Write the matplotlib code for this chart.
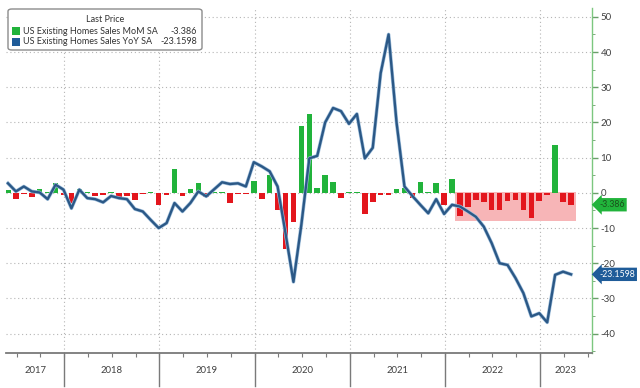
import numpy as np
import matplotlib
matplotlib.use("Agg")
import matplotlib.pyplot as plt
from matplotlib.patches import Rectangle, FancyBboxPatch
from matplotlib.transforms import blended_transform_factory
import matplotlib.patheffects as pe

plt.rcParams['font.family'] = ['Lato', 'DejaVu Sans']

# ---- data (monthly, May 2017 .. Apr 2023) ----
start_year, start_month = 2017, 5
mom = [0.7, -1.8, -0.4, -1.2, 1.0, 0.3, 2.7, -0.6,                 # 2017 May-Dec
       -3.0, 1.0, 0.3, -1.0, -0.5, 0.2, -1.2, -1.0, -2.0, -0.4, 0.2, -3.4,   # 2018
       -0.5, 6.8, -1.0, 1.0, 2.9, -1.2, 0.2, 0.3, -2.9, -0.4, -0.4, 3.5,     # 2019
       -1.8, 5.1, -4.8, -16.0, -8.2, 19.0, 22.3, 1.3, 5.1, 3.2, -1.5, 0.3,   # 2020
       0.3, -6.1, -2.5, -0.7, -0.5, 1.0, 1.3, -1.5, 3.1, 0.2, 2.8, -3.6,     # 2021
       3.8, -6.6, -3.9, -2.0, -2.7, -5.0, -5.0, -2.2, -2.0, -5.0, -7.2, -2.2,  # 2022
       -0.5, 13.6, -2.5, -3.386]                                            # 2023
yoy = [2.7, 0.4, 1.8, 0.4, 0.1, -1.8, 2.3, 0.9,
       -4.4, 0.9, -1.5, -1.8, -2.7, -0.9, -1.5, -1.8, -4.6, -5.3, -7.7, -10.0,
       -8.6, -2.9, -5.3, -2.9, 0.4, -1.0, 1.0, 3.0, 2.5, 2.7, 1.8, 8.7,
       7.5, 6.1, 1.8, -11.5, -25.3, -9.0, 9.8, 10.5, 20.0, 24.1, 23.2, 19.6,
       22.4, 9.8, 12.8, 34.0, 45.0, 20.0, 1.8, -0.9, -3.4, -5.8, -1.8, -6.0,
       -3.4, -3.9, -5.3, -6.8, -9.6, -14.3, -20.0, -20.5, -24.2, -28.5, -35.1, -34.2,
       -36.8, -23.3, -22.4, -23.1598]
years = [2017, 2018, 2019, 2020, 2021, 2022, 2023]
yticks = [-40, -30, -20, -10, 0, 10, 20, 30, 40, 50]
legend_labels = ["US Existing Homes Sales MoM SA", "US Existing Homes Sales YoY SA"]
legend_title = "Last Price"
highlight_start = 57  # Feb 2022 index (start of shaded run)

GREEN = '#21b33b'
RED = '#e3161d'
BLUE = '#2b5886'
PINK = '#f7b5b7'

n = len(mom)
# x in months since Jan 2017, plotted near month end (Bloomberg style)
t = np.array([(start_year - 2017) * 12 + (start_month - 1) + i for i in range(n)]) + 0.9
mom = np.array(mom)
yoy = np.array(yoy)

W, H = 640, 388
fig = plt.figure(figsize=(W / 100, H / 100), dpi=100)
ax_l, ax_r, ax_t, ax_b = 6, 592, 8, 353
ax = fig.add_axes([ax_l / W, 1 - ax_b / H, (ax_r - ax_l) / W, (ax_b - ax_t) / H])

xmin, xmax = 4.65, 78.55
ax.set_xlim(xmin, xmax)
ax.set_ylim(-45.5, 52.5)

# grid
for yv in yticks:
    ax.axhline(yv, color='#b5b5b5', lw=0.8, ls=(0, (1, 2.5)), zorder=1)
year_edges = [(y - 2017) * 12 for y in years[1:]]
for xv in year_edges:
    ax.axvline(xv, color='#b5b5b5', lw=0.8, ls=(0, (1, 2.5)), zorder=1)

# highlight box
hl_bottom = mom[highlight_start:].min() - 0.8
ax.add_patch(Rectangle((t[highlight_start] - 0.6, hl_bottom),
                       t[-1] + 0.6 - (t[highlight_start] - 0.6), 0.3 - hl_bottom,
                       facecolor=PINK, edgecolor='none', zorder=2))

colors = [GREEN if v >= 0 else RED for v in mom]
ax.bar(t, mom, width=0.7, color=colors, zorder=3)

ax.plot(t, yoy, color=BLUE, lw=1.7, zorder=4, solid_joinstyle='round',
        path_effects=[pe.Stroke(linewidth=2.6, foreground='#9fbfdc'), pe.Normal()])

# spines
for s in ['top', 'left']:
    ax.spines[s].set_visible(False)
ax.spines['bottom'].set_color('#7a7a7a')
ax.spines['bottom'].set_linewidth(1.3)
ax.spines['right'].set_color('#7cc77f')
ax.spines['right'].set_linewidth(1.0)

ax.yaxis.tick_right()
ax.set_yticks(yticks)
ax.set_yticklabels([str(v) for v in yticks])
ax.set_yticks(np.arange(-45, 51, 5), minor=True)
ax.tick_params(axis='y', which='major', direction='out', length=4, width=1,
               color='#6a9f6a', labelsize=7, labelcolor='#404040', pad=2)
ax.tick_params(axis='y', which='minor', direction='out', length=2, width=0.6, color='#6a9f6a')

quarters = np.arange(0, 79, 3)
quarters = quarters[(quarters > xmin) & (quarters < xmax)]
ax.set_xticks(quarters, minor=True)
ax.set_xticks([])
ax.tick_params(axis='x', which='minor', direction='out', length=3, width=0.8, color='#7a7a7a')

# year separators and labels below axis
trans = blended_transform_factory(ax.transData, ax.transAxes)
for xv in year_edges:
    ax.plot([xv, xv], [0, -0.095], color='#7a7a7a', lw=1.0, transform=trans, clip_on=False)
bounds = [xmin] + year_edges + [xmax]
for i, yr in enumerate(years):
    ax.text((bounds[i] + bounds[i + 1]) / 2, -0.05, str(yr), transform=trans,
            ha='center', va='center', fontsize=6.8, color='#404040')

# right-side value tags
ttrans = blended_transform_factory(ax.transAxes, ax.transData)
ax.text(1.012, mom[-1], f"{mom[-1]:.3f}", transform=ttrans, ha='left', va='center',
        fontsize=6.3, color='#1b4f1b',
        bbox=dict(boxstyle='larrow,pad=0.25', fc=GREEN, ec='none'), zorder=6, clip_on=False)
ax.text(1.012, yoy[-1], f"{yoy[-1]:.4f}", transform=ttrans, ha='left', va='center',
        fontsize=6.3, color='white',
        bbox=dict(boxstyle='larrow,pad=0.25', fc='#1f5c99', ec='none'), zorder=6, clip_on=False)

# legend box
lx0, ly0, lx1, ly1 = 8, 9, 202, 50
fig.patches.append(FancyBboxPatch((lx0 / W, 1 - ly1 / H), (lx1 - lx0) / W, (ly1 - ly0) / H,
                                  boxstyle='round,pad=0,rounding_size=0.006',
                                  transform=fig.transFigure, fc='white', ec='#8c8c8c', lw=1.0,
                                  zorder=10))
fig.text(105 / W, 1 - 20 / H, legend_title, ha='center', va='center', fontsize=6.5,
         color='#333333', zorder=11)
vals = [f"{mom[-1]:.3f}", f"{yoy[-1]:.4f}"]
for i, (lab, col, v) in enumerate(zip(legend_labels, [GREEN, '#1f5c99'], vals)):
    yy = 31 + 11 * i
    fig.patches.append(Rectangle((12 / W, 1 - (yy + 4) / H), 8 / W, 8 / H,
                                 transform=fig.transFigure, fc=col, ec='none', zorder=11))
    fig.text(23 / W, 1 - yy / H, lab, ha='left', va='center', fontsize=6.5,
             color='#333333', zorder=11)
    fig.text(197 / W, 1 - yy / H, v, ha='right', va='center', fontsize=6.5,
             color='#333333', zorder=11)

fig.savefig('out.png', dpi=100)
